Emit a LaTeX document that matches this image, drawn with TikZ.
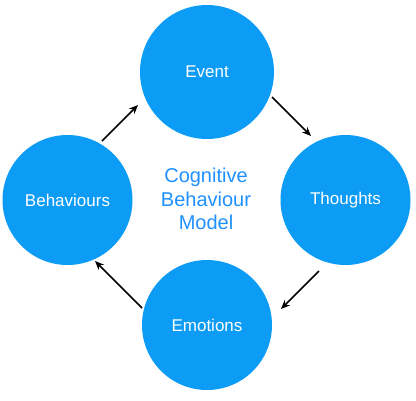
\documentclass[tikz,border=0pt]{standalone}
\usepackage{fontspec}
\setmainfont{Liberation Sans}
\usetikzlibrary{arrows.meta}
\definecolor{cblue}{RGB}{12,155,245}
\definecolor{tblue}{RGB}{30,144,255}
\begin{document}
\begin{tikzpicture}[x=1pt,y=-1pt,
  stage/.style={circle,fill=cblue,draw=none,minimum size=130pt,inner sep=0pt,text=white,font=\fontsize{17}{20}\selectfont},
  flow/.style={line width=1.5pt,-{Stealth[length=9pt,width=7.5pt]}}]
\useasboundingbox (0,0) rectangle (416,400);
\node[stage,minimum size=134pt] (ev) at (207,72) {Event};
\node[stage] (th) at (345.5,200) {Thoughts};
\node[stage] (em) at (207,325) {Emotions};
\node[stage] (be) at (67.5,200) {Behaviours};
\node[text=tblue,align=center,font=\fontsize{20}{23.3}\selectfont] (title) at (206,199) {Cognitive\\Behaviour\\Model};
\coordinate (a1s) at (272,97); \coordinate (a1e) at (311,136);
\coordinate (a2s) at (319,271); \coordinate (a2e) at (281,309);
\coordinate (a3s) at (142,308); \coordinate (a3e) at (95,261);
\coordinate (a4s) at (102,141); \coordinate (a4e) at (138,105);
\draw[flow] (a1s) -- (a1e);
\draw[flow] (a2s) -- (a2e);
\draw[flow] (a3s) -- (a3e);
\draw[flow] (a4s) -- (a4e);
\end{tikzpicture}
\end{document}
